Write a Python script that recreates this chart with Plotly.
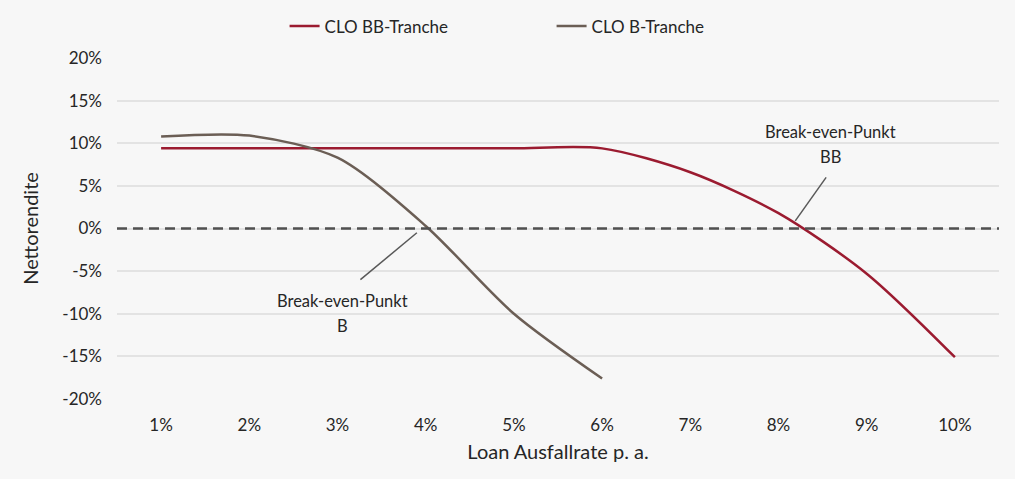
import plotly.graph_objects as go

ausfallrate = ['1%', '2%', '3%', '4%', '5%', '6%', '7%', '8%', '9%', '10%']
bb_tranche = [9.4, 9.4, 9.4, 9.4, 9.4, 9.4, 6.6, 1.8, -5.3, -15.1]
b_tranche = [10.8, 10.9, 8.3, 0.3, -10.0, -17.6]
y_ticks = [-20, -15, -10, -5, 0, 5, 10, 15, 20]

font_family = 'Lato, "Open Sans", sans-serif'
text_color = '#262626'
bg = '#f7f7f7'

fig = go.Figure()
fig.add_trace(go.Scatter(
    x=ausfallrate, y=bb_tranche, name='CLO BB-Tranche', mode='lines',
    line=dict(color='#9b1b30', width=2.5, shape='spline', smoothing=0.8),
))
fig.add_trace(go.Scatter(
    x=ausfallrate[:len(b_tranche)], y=b_tranche, name='CLO B-Tranche', mode='lines',
    line=dict(color='#6b5e55', width=2.5, shape='spline', smoothing=0.8),
))

# Nulllinie gestrichelt
fig.add_shape(type='line', xref='paper', yref='y', x0=0, x1=1, y0=0, y1=0,
              line=dict(color='#505050', width=2.5, dash='10px,6px'), layer='above')

# Break-even Hinweise
fig.add_shape(type='line', x0=7.54, y0=6.0, x1=7.19, y1=0.9,
              line=dict(color='#595959', width=1.5))
fig.add_shape(type='line', x0=2.26, y0=-6.0, x1=2.90, y1=-0.5,
              line=dict(color='#595959', width=1.5))
for x, y, t in [(7.59, 11.3, 'Break-even-Punkt'), (7.59, 8.35, 'BB'),
                (2.06, -8.45, 'Break-even-Punkt'), (2.06, -11.4, 'B')]:
    fig.add_annotation(x=x, y=y, text=t, showarrow=False,
                       font=dict(size=16.5, color=text_color))

fig.update_layout(
    width=1015, height=479,
    margin=dict(l=117, r=16, t=58, b=80, autoexpand=False),
    paper_bgcolor=bg, plot_bgcolor=bg,
    font=dict(family=font_family, size=17, color=text_color),
    showlegend=True,
    legend=dict(orientation='h', x=0.19, xanchor='left', yref='container', y=0.945,
                yanchor='middle', font=dict(size=17), bgcolor='rgba(0,0,0,0)',
                entrywidth=222, entrywidthmode='pixels', itemwidth=30),
    xaxis=dict(
        type='category', range=[-0.5, 9.5], showgrid=False, zeroline=False,
        showline=False, ticks='', ticklabelstandoff=14,
        title=dict(text='Loan Ausfallrate p. a.', standoff=10),
    ),
    yaxis=dict(
        range=[-20, 20], tickvals=y_ticks, ticktext=[f'{v}%' for v in y_ticks],
        showgrid=True, gridcolor='#e3e3e3', gridwidth=1.5, zeroline=False,
        showline=False, ticks='', ticklabelstandoff=14,
        title=dict(text='Nettorendite', standoff=18),
    ),
)

fig.write_html('out.html', config={'displayModeBar': False},
               post_script="document.body.style.margin='0';"
                           "document.body.style.background='#f7f7f7';")
